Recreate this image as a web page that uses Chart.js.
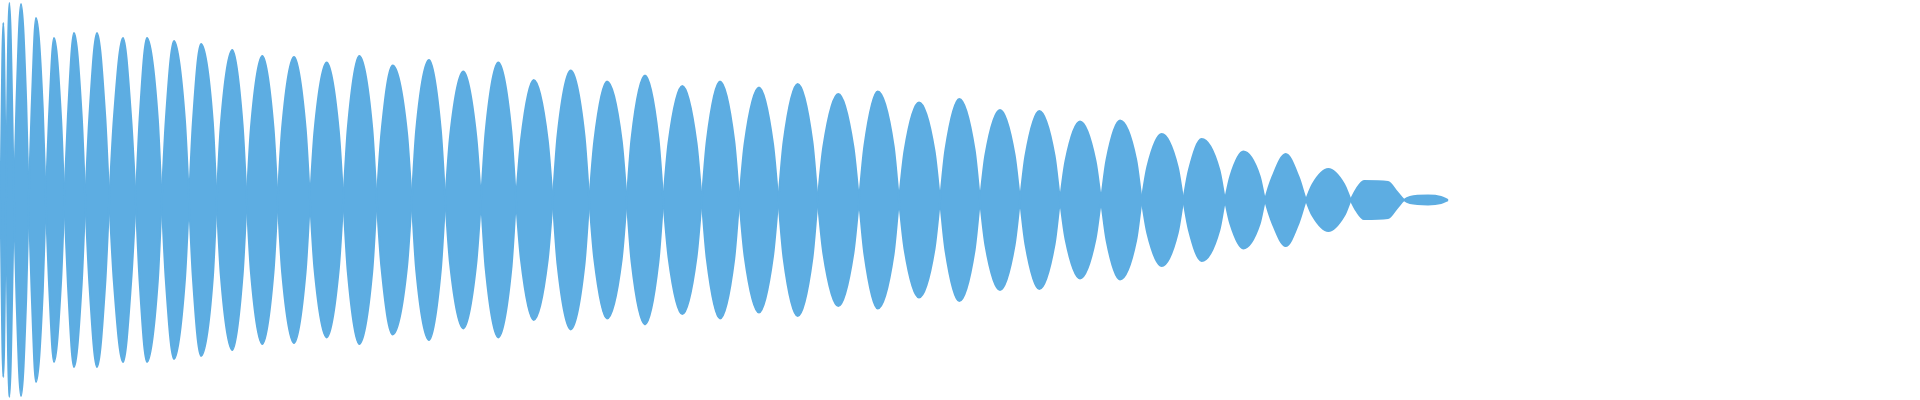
<!DOCTYPE html>
<html>
<head>
<meta charset="utf-8">
<title>Golfvorm</title>
<script src="https://cdn.jsdelivr.net/npm/chart.js@4.4.1/dist/chart.umd.min.js"></script>
<style>
	body { margin: 0; background: #ffffff; }
	#wrap { width: 1920px; height: 400px; }
</style>
</head>
<body>
<div id="wrap"><canvas id="myChart" width="1920" height="400"></canvas></div>
<script>
// tijd (ms) van elk punt op de omhullende; niveau 0 = nuldoorgang
// per lob: schouder (halve hoogte), top, schouder
var tijd = [
	0.5, 3.3, 6, 9.3, 14,
	16.5, 21, 26.2, 28.7,
	31.6, 36, 42.8, 45.7,
	48.9, 54, 61.1, 64.3,
	67.9, 74, 81.7, 85.3,
	89.4, 97, 105.2, 109.3,
	113.8, 123, 131.2, 135.7,
	139.6, 147, 157.8, 161.7,
	165.8, 174, 184.9, 189,
	192.9, 201, 212.8, 216.7,
	220.8, 232.3, 242.6, 246.7,
	250.9, 262.3, 273.5, 277.7,
	282.1, 294, 305.6, 310,
	314.5, 326.7, 338.8, 343.3,
	347.8, 359.3, 372.2, 376.7,
	381.4, 392.7, 407, 411.7,
	416.2, 429, 440.8, 445.3,
	450.1, 463.3, 476.2, 481,
	485.7, 498.3, 511.3, 516,
	521, 533.7, 547.7, 552.7,
	557.6, 570.7, 584.4, 589.3,
	594.3, 607, 621.7, 626.7,
	631.6, 645, 658.4, 663.3,
	668.5, 682.3, 696.5, 701.7,
	706.8, 720, 734.2, 739.3,
	744.6, 759, 773, 778.3,
	783.6, 797.7, 812.4, 817.7,
	823.3, 838.3, 853.4, 859,
	864.4, 877.7, 893.6, 899,
	904.5, 919, 934.5, 940,
	945.4, 959.3, 974.6, 980,
	985.4, 1000, 1014.6, 1020,
	1025.4, 1039.3, 1054.6, 1060,
	1065.5, 1080, 1095.5, 1101,
	1106.5, 1120, 1136.2, 1141.7,
	1147.3, 1161.7, 1177.7, 1183.3,
	1188.9, 1201.7, 1219.4, 1225,
	1230.4, 1243.3, 1259.6, 1265,
	1272.4, 1285.7, 1298.6, 1306,
	1312.5, 1328.3, 1344.2, 1350.7,
	1356.5, 1364, 1388, 1397, 1404,
	1410, 1428, 1441, 1448
];
var niveau = [
	0, 0.885, 0, 0.985, 0,
	0.49, 0.98, 0.49, 0,
	0.455, 0.91, 0.455, 0,
	0.405, 0.81, 0.405, 0,
	0.42, 0.835, 0.42, 0,
	0.42, 0.835, 0.42, 0,
	0.405, 0.81, 0.405, 0,
	0.405, 0.81, 0.405, 0,
	0.4, 0.795, 0.4, 0,
	0.39, 0.78, 0.39, 0,
	0.375, 0.75, 0.375, 0,
	0.36, 0.72, 0.36, 0,
	0.36, 0.715, 0.36, 0,
	0.345, 0.687, 0.345, 0,
	0.36, 0.72, 0.36, 0,
	0.335, 0.672, 0.335, 0,
	0.35, 0.70, 0.35, 0,
	0.32, 0.642, 0.32, 0,
	0.345, 0.687, 0.345, 0,
	0.3, 0.60, 0.3, 0,
	0.325, 0.647, 0.325, 0,
	0.295, 0.592, 0.295, 0,
	0.31, 0.622, 0.31, 0,
	0.285, 0.57, 0.285, 0,
	0.295, 0.592, 0.295, 0,
	0.28, 0.562, 0.28, 0,
	0.29, 0.58, 0.29, 0,
	0.265, 0.53, 0.265, 0,
	0.27, 0.542, 0.27, 0,
	0.245, 0.487, 0.245, 0,
	0.25, 0.505, 0.25, 0,
	0.225, 0.45, 0.225, 0,
	0.22, 0.445, 0.22, 0,
	0.195, 0.392, 0.195, 0,
	0.2, 0.397, 0.2, 0,
	0.165, 0.33, 0.165, 0,
	0.15, 0.305, 0.15, 0,
	0.12, 0.242, 0.12, 0,
	0.115, 0.23, 0.115, 0,
	0.078, 0.155, 0.078, 0,
	0.055, 0.095, 0.09, 0.04, 0,
	0.015, 0.022, 0.015, 0
];
var kleur = '#5DADE2';

// na elke nuldoorgang wisselt het teken van de golf
function golf(richting) {
	var punten = [];
	var teken = 1;
	for (let i = 0; i < tijd.length; i++) {
		if (niveau[i] === 0) {
			punten.push({x: tijd[i], y: 0});
			teken = -teken;
		} else {
			punten.push({x: tijd[i], y: richting * teken * niveau[i]});
		}
	}
	return punten
};

var ctx = document.getElementById('myChart');
var chart = new Chart(ctx, {
	type: 'line',
	data: {
		datasets: [{
			data: golf(1),
			borderColor: kleur,
			backgroundColor: kleur,
			borderWidth: 2,
			pointRadius: 0,
			cubicInterpolationMode: 'monotone',
			fill: {target: 1, above: kleur, below: kleur}
		}, {
			data: golf(-1),
			borderColor: kleur,
			backgroundColor: kleur,
			borderWidth: 2,
			pointRadius: 0,
			cubicInterpolationMode: 'monotone',
			fill: false
		}]
	},
	options: {
		responsive: false,
		animation: false,
		layout: {padding: 0},
		plugins: {legend: {display: false}, tooltip: {enabled: false}},
		scales: {
			x: {type: 'linear', min: 0, max: 1920, display: false},
			y: {min: -1, max: 1, display: false}
		}
	}
});
</script>
</body>
</html>
